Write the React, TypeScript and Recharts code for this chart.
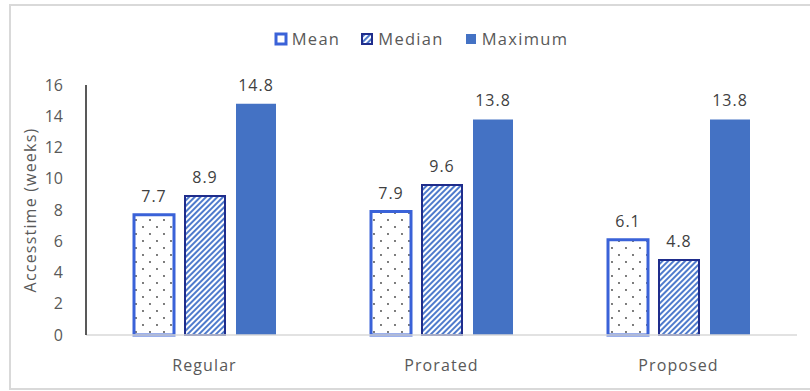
import { BarChart, Bar, XAxis, YAxis, LabelList } from "recharts";

const categories = ["Regular", "Prorated", "Proposed"];
const meanValues = [7.7, 7.9, 6.1];
const medianValues = [8.9, 9.6, 4.8];
const maximumValues = [14.8, 13.8, 13.8];
const seriesNames = ["Mean", "Median", "Maximum"];
const yTicks = [0, 2, 4, 6, 8, 10, 12, 14, 16];

const data = categories.map((name, i) => ({
  name,
  mean: meanValues[i],
  median: medianValues[i],
  maximum: maximumValues[i],
}));

const FONT = "'Open Sans', sans-serif";
const TEXT = "#595959";
const BLUE = "#4472C4";
const MEAN_EDGE = "#3a62d8";
const MEDIAN_EDGE = "#1f2d8c";

function Patterns({ prefix }: { prefix: string }) {
  return (
    <defs>
      <pattern id={`${prefix}dots`} width="14" height="14" patternUnits="userSpaceOnUse">
        <rect width="14" height="14" fill="#fff" />
        <circle cx="3" cy="3" r="0.9" fill="#404040" />
        <circle cx="10" cy="10" r="0.9" fill="#404040" />
      </pattern>
      <pattern
        id={`${prefix}stripes`}
        width="4"
        height="4"
        patternUnits="userSpaceOnUse"
        patternTransform="rotate(45)"
      >
        <rect width="4" height="4" fill="#fff" />
        <rect width="2" height="4" fill="#4f7bcc" />
      </pattern>
    </defs>
  );
}

function LegendRow() {
  const icons = [
    <rect x="2" y="2" width="10" height="10" fill="#fff" stroke={MEAN_EDGE} strokeWidth="3" />,
    <rect x="2" y="2" width="10" height="10" fill="url(#lgstripes)" stroke={MEDIAN_EDGE} strokeWidth="2" />,
    <rect x="2" y="2" width="10" height="10" fill={BLUE} />,
  ];
  return (
    <div
      style={{
        position: "absolute",
        top: 27,
        left: 0,
        width: 842,
        display: "flex",
        justifyContent: "center",
        gap: 20,
        fontFamily: FONT,
        fontSize: 16.5,
        letterSpacing: 1.3,
        color: TEXT,
      }}
    >
      {seriesNames.map((n, i) => (
        <div key={n} style={{ display: "flex", alignItems: "center", gap: 4 }}>
          <svg width="14" height="14">
            <Patterns prefix="lg" />
            {icons[i]}
          </svg>
          <span>{n}</span>
        </div>
      ))}
    </div>
  );
}

export default function App() {
  const labelStyle = { fill: "#404040", fontSize: 16, fontFamily: FONT, letterSpacing: 1 };
  return (
    <div style={{ position: "absolute", left: 0, top: 0, width: 810, height: 391, overflow: "hidden", background: "#fff" }}>
      <div
        style={{
          position: "absolute",
          left: 9,
          top: 4,
          width: 820,
          height: 382,
          border: "2px solid #d9d9d9",
        }}
      />
      <LegendRow />
      <BarChart
        width={810}
        height={391}
        data={data}
        margin={{ top: 85, right: 13, left: 20, bottom: 26 }}
        barGap={11}
        barSize={40}
        style={{ position: "absolute", left: 0, top: 0 }}
      >
        <Patterns prefix="ch" />
        <XAxis
          dataKey="name"
          height={30}
          tickLine={false}
          tickSize={0}
          tickMargin={25}
          axisLine={{ stroke: "#d9d9d9", strokeWidth: 1.5 }}
          tick={{ fill: TEXT, fontSize: 16, fontFamily: FONT, letterSpacing: 1.1 }}
        />
        <YAxis
          width={66}
          domain={[0, 16]}
          ticks={yTicks}
          interval={0}
          tickLine={false}
          tickSize={0}
          tickMargin={23}
          axisLine={{ stroke: "#222", strokeWidth: 1.5 }}
          tick={{ fill: TEXT, fontSize: 16, fontFamily: FONT }}
          label={{
            value: "Accesstime (weeks)",
            angle: -90,
            position: "insideLeft",
            offset: 10,
            style: { textAnchor: "middle", fill: TEXT, fontSize: 16, fontFamily: FONT, letterSpacing: 1.2 },
          }}
        />
        <Bar dataKey="mean" name="Mean" fill="url(#chdots)" stroke={MEAN_EDGE} strokeWidth={3} isAnimationActive={false}>
          <LabelList dataKey="mean" position="top" offset={13} style={labelStyle} />
        </Bar>
        <Bar dataKey="median" name="Median" fill="url(#chstripes)" stroke={MEDIAN_EDGE} strokeWidth={2} isAnimationActive={false}>
          <LabelList dataKey="median" position="top" offset={13} style={labelStyle} />
        </Bar>
        <Bar dataKey="maximum" name="Maximum" fill={BLUE} isAnimationActive={false}>
          <LabelList dataKey="maximum" position="top" offset={13} style={labelStyle} />
        </Bar>
      </BarChart>
    </div>
  );
}
